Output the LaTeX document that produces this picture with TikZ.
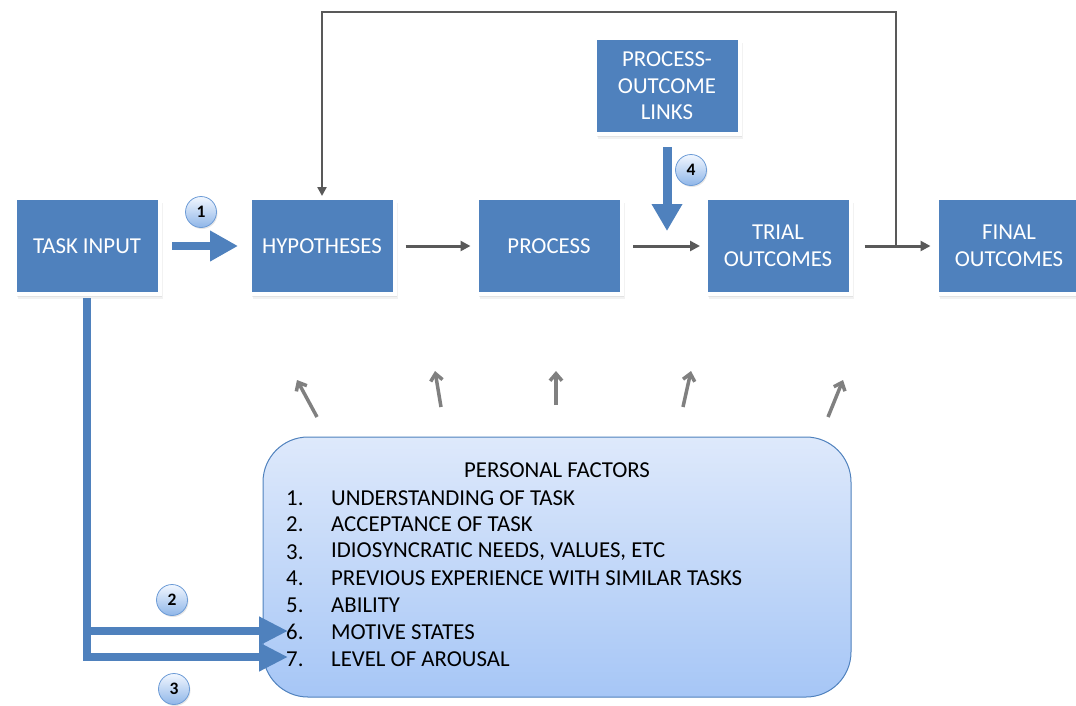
\documentclass[tikz,border=0pt]{standalone}
\usepackage{fontspec}
\setmainfont{Carlito}
\usetikzlibrary{arrows.meta,shadows,calc}
\definecolor{boxblue}{HTML}{4F81BD}
\definecolor{darkarr}{HTML}{595959}
\definecolor{lightarr}{HTML}{808080}
\definecolor{pftop}{HTML}{DEE9FB}
\definecolor{pfbot}{HTML}{A6C6F6}
\definecolor{circtop}{HTML}{F2F7FF}
\definecolor{circbot}{HTML}{8FB6E8}
\definecolor{circline}{HTML}{6C9BD6}
\begin{document}
\begin{tikzpicture}[x=1pt,y=-1pt,
  box/.style={fill=boxblue, draw=white, line width=4pt, minimum width=145pt, minimum height=96pt,
    text=white, font=\fontsize{22.8}{26.5}\selectfont, align=center, inner sep=2pt,
    drop shadow={opacity=0.10, shadow xshift=3.5pt, shadow yshift=-4.5pt},
    drop shadow={opacity=0.14, shadow xshift=2.6pt, shadow yshift=-3pt}},
  numcirc/.style={circle, draw=circline, line width=0.8pt, top color=circtop, bottom color=circbot,
    minimum size=31pt, inner sep=0pt, font=\fontsize{17.5}{17.5}\selectfont\bfseries,
    drop shadow={opacity=0.2, shadow xshift=1pt, shadow yshift=-1.5pt}},
  pfbox/.style={rounded corners=45pt, draw=boxblue, line width=1pt, top color=pftop, bottom color=pfbot,
    minimum width=588pt, minimum height=260pt},
  pftext/.style={font=\fontsize{22.8}{26}\selectfont, inner sep=0pt, anchor=west},
  darkflow/.style={draw=darkarr, line width=3pt, -{Triangle[length=10pt,width=10pt]}},
  feedback/.style={draw=darkarr, line width=2.5pt, -{Triangle[length=9pt,width=9pt]}},
  upflow/.style={draw=lightarr, line width=3.5pt, -{Straight Barb[length=7pt,width=12pt]}},
  bigflow/.style={draw=boxblue, line join=miter},
]
\useasboundingbox (0,0) rectangle (1076,705);

% main boxes
\node[box] (ti) at (87,246) {TASK INPUT};
\node[box] (hyp) at (322,246) {HYPOTHESES};
\node[box] (proc) at (549,246) {PROCESS};
\node[box] (trial) at (778,246) {TRIAL\\OUTCOMES};
\node[box] (final) at (1009,246) {FINAL\\OUTCOMES};
\node[box] (pol) at (667,86) {PROCESS-\\OUTCOME\\LINKS};

% personal factors
\node[pfbox] (pf) at (557,567) {};
\node[font=\fontsize{22.8}{26}\selectfont] (pft) at (557,470) {PERSONAL FACTORS};
\node[pftext] (n1) at (286,498) {1.};
\node[pftext] (t1) at (331,498) {UNDERSTANDING OF TASK};
\node[pftext] (n2) at (286,524) {2.};
\node[pftext] (t2) at (331,524) {ACCEPTANCE OF TASK};
\node[pftext] (n3) at (286,552) {3.};
\node[pftext] (t3) at (331,552) {IDIOSYNCRATIC NEEDS, VALUES, ETC};
\node[pftext] (n4) at (286,578) {4.};
\node[pftext] (t4) at (331,578) {PREVIOUS EXPERIENCE WITH SIMILAR TASKS};
\node[pftext] (n5) at (286,605) {5.};
\node[pftext] (t5) at (331,605) {ABILITY};
\node[pftext] (n6) at (286,632) {6.};
\node[pftext] (t6) at (331,632) {MOTIVE STATES};
\node[pftext] (n7) at (286,659) {7.};
\node[pftext] (t7) at (331,659) {LEVEL OF AROUSAL};

% grey flow arrows
\draw[darkflow, shorten <=9pt, shorten >=4pt] (hyp.east) -- (proc.west);
\draw[darkflow, shorten <=9.5pt, shorten >=3.5pt] (proc.east) -- (trial.west);
\draw[darkflow, shorten <=12pt, shorten >=4pt] (trial.east) -- (final.west);

% feedback loop
\coordinate (fb) at (896,246);
\coordinate (fbtop) at (896,12);
\draw[feedback] (fb) -- (fbtop) -| (hyp.north);

% arrow 1
\draw[bigflow, line width=7.5pt, -{Triangle[length=28pt,width=29pt]}, shorten <=10.5pt, shorten >=9.5pt] (ti.east) -- (hyp.west);

% arrow 4
\coordinate (a4) at (667,231);
\draw[bigflow, line width=9pt, -{Triangle[length=27pt,width=29pt]}, shorten <=11pt] (pol.south) -- (a4);

% arrows 2 and 3
\coordinate (a6) at (288,631);
\coordinate (a7) at (288,657);
\draw[bigflow, line width=8.5pt, -{Triangle[length=29pt,width=27pt]}, shorten <=2pt] (ti.south) |- (a6);
\draw[bigflow, line width=8.5pt, -{Triangle[length=29pt,width=27pt]}, shorten <=2pt] (ti.south) |- (a7);

% up arrows from personal factors
\coordinate (u1a) at (317,417); \coordinate (u1b) at (297,380);
\coordinate (u2a) at (441,407); \coordinate (u2b) at (435,371);
\coordinate (u3a) at (556,405); \coordinate (u3b) at (556,371);
\coordinate (u4a) at (683,407); \coordinate (u4b) at (691,371);
\coordinate (u5a) at (828,417); \coordinate (u5b) at (843,380);
\draw[upflow] (u1a) -- (u1b);
\draw[upflow] (u2a) -- (u2b);
\draw[upflow] (u3a) -- (u3b);
\draw[upflow] (u4a) -- (u4b);
\draw[upflow] (u5a) -- (u5b);

% number circles
\node[numcirc] (c1) at (201,212) {1};
\node[numcirc] (c4) at (691,170) {4};
\node[numcirc] (c2) at (172,600) {2};
\node[numcirc] (c3) at (174,689) {3};
\end{tikzpicture}
\end{document}
